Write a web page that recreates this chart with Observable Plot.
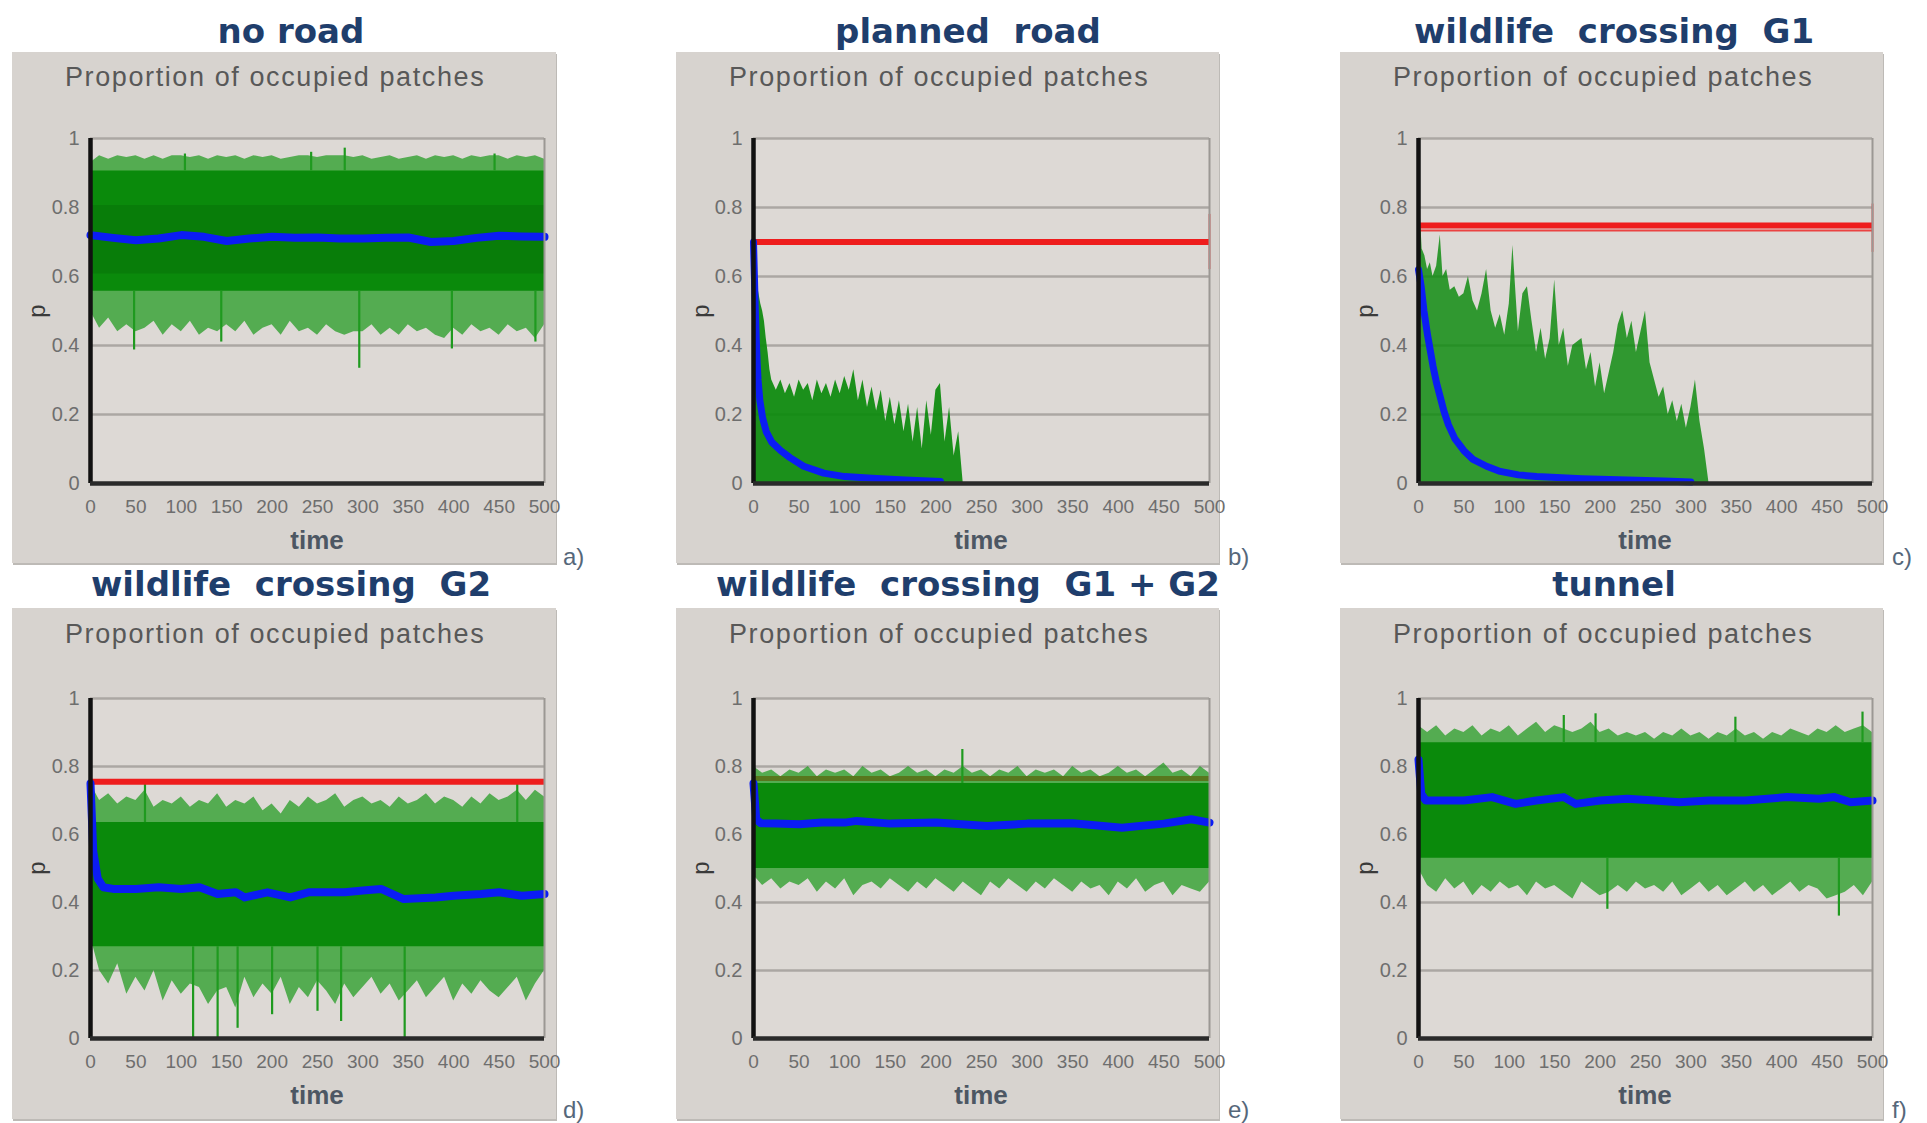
<!DOCTYPE html>
<html>
<head>
<meta charset="utf-8">
<script src="https://cdn.jsdelivr.net/npm/d3@7"></script>
<script src="https://cdn.jsdelivr.net/npm/@observablehq/plot@0.6"></script>
<style>
html,body{margin:0;padding:0;background:#fff;}
#root{position:relative;width:1927px;height:1123px;overflow:hidden;background:#fff;}
.box{position:absolute;background:#d7d3cf;overflow:visible;box-shadow:1px 2px 0 #bdbab6;}
.box svg{display:block;overflow:visible;}
.title{position:absolute;width:700px;text-align:center;font-family:"DejaVu Sans";font-weight:bold;font-size:34px;line-height:34px;color:#1f3e6c;white-space:pre;}
.sub{position:absolute;font-family:"Liberation Sans";font-size:27px;line-height:27px;letter-spacing:1.6px;color:#585858;white-space:pre;}
.xl{position:absolute;width:120px;text-align:center;font-family:"Liberation Sans";font-weight:bold;font-size:26px;line-height:26px;color:#4d5763;}
.yl{position:absolute;width:30px;height:30px;line-height:30px;text-align:center;font-family:"Liberation Sans";font-size:24px;color:#3a3a3a;transform:rotate(-90deg);}
.tag{position:absolute;font-family:"Liberation Sans";font-size:24px;line-height:24px;color:#56677a;}
</style>
</head>
<body>
<div id="root"></div>
<script>
// ---------- shared categories / ticks ----------
const tGrid = [0,10,20,30,40,50,60,70,80,90,100,110,120,130,140,150,160,170,180,190,200,210,220,230,240,250,260,270,280,290,300,310,320,330,340,350,360,370,380,390,400,410,420,430,440,450,460,470,480,490,500];
const xTicks = [0,50,100,150,200,250,300,350,400,450,500];
const yTicks = [0,0.2,0.4,0.6,0.8,1];
const gridLevels = [0.2,0.4,0.6,0.8,1];
const titles = ["no road","planned  road","wildlife  crossing  G1","wildlife  crossing  G2","wildlife  crossing  G1 + G2","tunnel"];
const tags = ["a)","b)","c)","d)","e)","f)"];
const subTitle = "Proportion of occupied patches";
const xLabel = "time";
const yLabel = "p";

// ---------- a) no road ----------
const aHi = [0.93,0.95,0.94,0.95,0.945,0.95,0.94,0.95,0.94,0.95, 0.95,0.945,0.95,0.94,0.95,0.945,0.95,0.94,0.95,0.945, 0.95,0.94,0.945,0.95,0.95,0.945,0.95,0.95,0.95,0.945, 0.95,0.94,0.945,0.95,0.94,0.945,0.95,0.94,0.95,0.945, 0.95,0.94,0.95,0.945,0.95,0.95,0.94,0.95,0.945,0.95, 0.94];
const aLo = [0.50,0.45,0.48,0.44,0.46,0.44,0.45,0.47,0.43,0.46, 0.44,0.47,0.43,0.45,0.44,0.46,0.44,0.47,0.43,0.45, 0.46,0.43,0.47,0.44,0.45,0.43,0.46,0.44,0.43,0.44, 0.44,0.46,0.43,0.45,0.43,0.46,0.44,0.45,0.43,0.42, 0.45,0.43,0.46,0.44,0.45,0.43,0.46,0.44,0.45,0.42, 0.46];
const aCore = [0.557, 0.906];
const aSpikeT = [48,104,144,243,280,296,398,445,490];
const aSpikeP = [0.387,0.955,0.41,0.96,0.972,0.334,0.39,0.955,0.41];
const aMeanT = [0,25,50,75,100,125,150,175,200,225,250,275,300,325,350,375,400,425,450,475,500];
const aMean = [0.72,0.712,0.705,0.71,0.72,0.715,0.703,0.71,0.715,0.712,0.713,0.71,0.71,0.712,0.713,0.70,0.703,0.712,0.718,0.716,0.715];

// ---------- b) planned road ----------
const bT = [0,2,4,6,8,10,12,14,16,18,20,25,30,35,40,45,50,55,60,65,70,75,80,85,90,95,100,105,110,115,120,125,130,135,140,145,150,155,160,165,170,175,180,185,190,195,200,205,210,215,220,225,230];
const bHi = [0.80,0.66,0.58,0.55,0.52,0.50,0.47,0.42,0.38,0.33,0.30, 0.27,0.30,0.26,0.29,0.25,0.30,0.27,0.29,0.24,0.30,0.26,0.29,0.25,0.30,0.26,0.31,0.27,0.33,0.24,0.30,0.22,0.28,0.21,0.27,0.18,0.25,0.17,0.24,0.15,0.23,0.12,0.22,0.10,0.24,0.14,0.27,0.29,0.12,0.22,0.08,0.15,0.0];
const bMeanT = [0,1,2,3,4,5,7,10,14,20,30,40,55,77,100,130,166,205];
const bMean = [0.70,0.60,0.50,0.42,0.35,0.30,0.24,0.19,0.15,0.12,0.095,0.075,0.05,0.03,0.02,0.015,0.01,0.006];
const bRed = 0.70;
const bRedEdge = [0.62, 0.78];

// ---------- c) wildlife crossing G1 ----------
const cT = [0,2,4,7,10,13,16,20,24,27,31,35,40,45,50,55,60,65,70,75,80,85,90,95,100,104,110,115,120,125,130,135,140,145,150,155,160,165,170,175,180,185,190,195,200,205,210,215,220,225,230,235,240,245,250,255,260,265,270,275,280,285,290,295,300,305,310,315,320];
const cHi = [0.80,0.78,0.68,0.66,0.62,0.64,0.60,0.63,0.72,0.60,0.62,0.56, 0.57,0.54,0.55,0.60,0.53,0.50,0.55,0.62,0.50,0.45,0.49,0.43,0.52, 0.69, 0.44,0.55,0.57,0.47,0.38,0.45,0.36,0.42,0.59,0.40,0.45,0.34,0.40,0.41,0.42,0.33,0.38,0.28,0.35,0.26,0.32,0.38,0.46,0.50,0.42,0.47,0.38,0.44,0.50,0.35,0.30,0.25,0.28,0.20,0.24,0.18,0.23,0.16,0.22,0.30,0.18,0.10,0.0];
const cMeanT = [0,3,6,10,13,16,20,24,28,33,40,50,60,75,90,110,130,180,230,270,300];
const cMean = [0.62,0.57,0.50,0.43,0.385,0.34,0.29,0.25,0.21,0.17,0.13,0.095,0.07,0.05,0.035,0.025,0.02,0.014,0.01,0.007,0.004];
const cRed = 0.748;
const cRed2 = 0.733;
const cRedEdge = [0.67, 0.81];

// ---------- d) wildlife crossing G2 ----------
const dHi = [0.75,0.70,0.72,0.69,0.71,0.70,0.73,0.68,0.70,0.69, 0.71,0.68,0.70,0.69,0.72,0.68,0.70,0.69,0.71,0.67, 0.69,0.66,0.70,0.68,0.71,0.69,0.70,0.72,0.68,0.70, 0.71,0.69,0.70,0.68,0.71,0.69,0.70,0.72,0.69,0.71, 0.70,0.68,0.71,0.69,0.72,0.70,0.71,0.73,0.70,0.73, 0.71];
const dLo = [0.30,0.20,0.16,0.22,0.13,0.18,0.14,0.20,0.11,0.17, 0.13,0.16,0.15,0.10,0.14,0.15,0.09,0.18,0.12,0.16, 0.13,0.18,0.10,0.15,0.12,0.17,0.14,0.10,0.16,0.12, 0.15,0.18,0.13,0.16,0.11,0.14,0.17,0.12,0.15,0.18, 0.11,0.16,0.13,0.17,0.14,0.12,0.15,0.18,0.11,0.16, 0.20];
const dCore = [0.27, 0.635];
const dSpikeT = [60,113,140,162,200,250,276,346,470];
const dSpikeP = [0.76,0.0,0.0,0.03,0.07,0.08,0.05,0.0,0.75];
const dMeanT = [0,3,8,14,25,50,75,100,120,140,160,170,195,220,240,280,300,320,345,380,400,430,450,475,500];
const dMean = [0.75,0.55,0.47,0.445,0.44,0.44,0.445,0.44,0.445,0.425,0.43,0.415,0.43,0.415,0.43,0.43,0.435,0.44,0.41,0.415,0.42,0.425,0.43,0.42,0.425];
const dRed = 0.755;

// ---------- e) wildlife crossing G1 + G2 ----------
const eHi = [0.80,0.78,0.79,0.77,0.79,0.78,0.80,0.77,0.79,0.78, 0.79,0.77,0.80,0.78,0.79,0.77,0.78,0.80,0.78,0.79, 0.77,0.79,0.78,0.80,0.78,0.79,0.77,0.79,0.78,0.80, 0.77,0.79,0.78,0.79,0.77,0.80,0.78,0.79,0.77,0.78, 0.80,0.78,0.79,0.77,0.79,0.81,0.78,0.79,0.77,0.80, 0.78];
const eLo = [0.48,0.45,0.47,0.44,0.46,0.45,0.47,0.43,0.46,0.44, 0.47,0.42,0.45,0.46,0.44,0.47,0.45,0.43,0.46,0.44, 0.47,0.45,0.43,0.46,0.44,0.42,0.46,0.44,0.47,0.45, 0.43,0.46,0.44,0.47,0.45,0.43,0.46,0.44,0.45,0.42, 0.46,0.44,0.47,0.43,0.45,0.46,0.42,0.45,0.44,0.43, 0.46];
const eCore = [0.50, 0.75];
const eSpikeT = [229];
const eSpikeP = [0.85];
const eMeanT = [0,3,8,25,50,75,100,113,150,200,256,300,350,404,450,480,500];
const eMean = [0.75,0.645,0.633,0.632,0.63,0.635,0.635,0.64,0.632,0.635,0.625,0.632,0.633,0.62,0.632,0.645,0.635];
const eRed = 0.765;

// ---------- f) tunnel ----------
const fHi = [0.92,0.90,0.92,0.89,0.91,0.90,0.92,0.89,0.91,0.90, 0.92,0.89,0.91,0.93,0.90,0.92,0.91,0.90,0.91,0.93, 0.90,0.91,0.89,0.90,0.89,0.90,0.88,0.90,0.89,0.91, 0.89,0.90,0.88,0.90,0.89,0.91,0.89,0.90,0.88,0.90, 0.89,0.91,0.90,0.89,0.91,0.90,0.92,0.90,0.91,0.92, 0.90];
const fLo = [0.50,0.45,0.43,0.47,0.44,0.46,0.42,0.45,0.43,0.46, 0.44,0.45,0.42,0.46,0.44,0.45,0.43,0.41,0.46,0.44, 0.42,0.43,0.45,0.43,0.46,0.44,0.45,0.43,0.46,0.42, 0.44,0.46,0.43,0.45,0.42,0.44,0.46,0.43,0.45,0.42, 0.44,0.46,0.43,0.45,0.44,0.41,0.42,0.43,0.45,0.42, 0.46];
const fCore = [0.53, 0.87];
const fSpikeT = [160,195,208,349,463,489];
const fSpikeP = [0.95,0.955,0.38,0.945,0.36,0.96];
const fMeanT = [0,3,8,25,50,81,107,130,160,173,200,230,260,287,320,360,406,441,458,476,500];
const fMean = [0.82,0.72,0.70,0.70,0.70,0.71,0.69,0.70,0.71,0.69,0.70,0.705,0.70,0.695,0.70,0.70,0.71,0.705,0.71,0.695,0.70];

// ---------- layout (positions / styles) ----------
const colLayout = [
  {x:12, w:544, l:78, r:12, titleCx:291, tagX:563},
  {x:676, w:543, l:77, r:10, titleCx:968, tagX:1228},
  {x:1340, w:543, l:78, r:11, titleCx:1614, tagX:1892}
];
const rowLayout = [
  {y:52, h:511, t:86, b:80, titleBase:43, subBase:35, tagBase:565},
  {y:608, h:511, t:90, b:81, titleBase:596, subBase:36, tagBase:1118}
];

const panels = [
  {kind:"band", hi:aHi, lo:aLo, core:aCore, spikeT:aSpikeT, spikeP:aSpikeP, meanT:aMeanT, mean:aMean, shade:true},
  {kind:"decay", t:bT, hi:bHi, meanT:bMeanT, mean:bMean, red:bRed, redEdge:bRedEdge, fillOp:0.92},
  {kind:"decay", t:cT, hi:cHi, meanT:cMeanT, mean:cMean, red:cRed, red2:cRed2, redEdge:cRedEdge, fillOp:0.82},
  {kind:"band", hi:dHi, lo:dLo, core:dCore, spikeT:dSpikeT, spikeP:dSpikeP, meanT:dMeanT, mean:dMean, red:dRed},
  {kind:"band", hi:eHi, lo:eLo, core:eCore, spikeT:eSpikeT, spikeP:eSpikeP, meanT:eMeanT, mean:eMean, redUnder:eRed},
  {kind:"band", hi:fHi, lo:fLo, core:fCore, spikeT:fSpikeT, spikeP:fSpikeP, meanT:fMeanT, mean:fMean}
];

const GREEN = "#0a8a0b", FRINGE = "#1f9a1f", BLUE = "#0b1cf4", RED = "#ee1d1d";

function marksFor(p) {
  const marks = [
    Plot.frame({fill:"#ddd9d5", stroke:"none"}),
    Plot.ruleY(gridLevels, {stroke:"#aba7a3", strokeWidth:2.5})
  ];
  if (p.redUnder != null) marks.push(Plot.ruleY([p.redUnder], {stroke:RED, strokeWidth:5}));
  if (p.kind === "band") {
    const rows = tGrid.map((t, i) => ({t, lo:p.lo[i], hi:p.hi[i]}));
    marks.push(Plot.areaY(rows, {x:"t", y1:"lo", y2:"hi", fill:FRINGE, fillOpacity:0.72}));
    const coreRows = tGrid.map(t => ({t, lo:p.core[0], hi:p.core[1]}));
    marks.push(Plot.areaY(coreRows, {x:"t", y1:"lo", y2:"hi", fill:GREEN}));
    if (p.shade) {
      marks.push(Plot.areaY(tGrid.map(t => ({t, lo:p.core[0] + 0.05, hi:p.core[1] - 0.1})), {x:"t", y1:"lo", y2:"hi", fill:"#055f08", fillOpacity:0.3}));
    }
    const mid = (p.core[0] + p.core[1]) / 2;
    const spikes = p.spikeT.map((t, i) => ({t, from: p.spikeP[i] > mid ? p.core[1] : p.core[0], to: p.spikeP[i]}));
    marks.push(Plot.ruleX(spikes, {x:"t", y1:"from", y2:"to", stroke:FRINGE, strokeWidth:2.2}));
  } else {
    const rows = p.t.map((t, i) => ({t, lo:0, hi:p.hi[i]}));
    marks.push(Plot.areaY(rows, {x:"t", y1:"lo", y2:"hi", fill:GREEN, fillOpacity:p.fillOp}));
  }
  if (p.red != null) marks.push(Plot.ruleY([p.red], {stroke:RED, strokeWidth:6}));
  if (p.red2 != null) marks.push(Plot.ruleY([p.red2], {stroke:RED, strokeWidth:2, strokeOpacity:0.8}));
  if (p.redEdge) marks.push(Plot.ruleX([500], {y1:p.redEdge[0], y2:p.redEdge[1], stroke:RED, strokeWidth:2, strokeOpacity:0.7}));
  const meanRows = p.meanT.map((t, i) => ({t, v:p.mean[i]}));
  marks.push(Plot.line(meanRows, {x:"t", y:"v", stroke:BLUE, strokeWidth: p.kind === "band" ? 8 : 7, strokeLinejoin:"round"}));
  marks.push(Plot.ruleX([500], {stroke:"#9b9894", strokeWidth:2}));
  marks.push(Plot.ruleX([0], {stroke:"#111", strokeWidth:4.5}));
  marks.push(Plot.ruleY([0], {stroke:"#2a2a2a", strokeWidth:4.5}));
  marks.push(Plot.axisY({ticks:yTicks, tickSize:0, tickPadding:11, fontSize:20, tickFormat:d => String(d), label:null}));
  marks.push(Plot.axisX({ticks:xTicks, tickSize:0, tickPadding:16, fontSize:19, tickFormat:d => String(d), label:null}));
  return marks;
}

const root = document.getElementById("root");
panels.forEach((p, k) => {
  const col = colLayout[k % 3], row = rowLayout[Math.floor(k / 3)];
  const box = document.createElement("div");
  box.className = "box";
  Object.assign(box.style, {left: col.x + "px", top: row.y + "px", width: col.w + "px", height: row.h + "px"});
  const svg = Plot.plot({
    width: col.w, height: row.h,
    marginTop: row.t, marginBottom: row.b, marginLeft: col.l, marginRight: col.r,
    x: {domain: [0, 500]}, y: {domain: [0, 1]},
    style: {background: "transparent", color: "#6e6e6e", fontFamily: "Liberation Sans", overflow: "visible"},
    marks: marksFor(p)
  });
  box.appendChild(svg);

  const sub = document.createElement("div");
  sub.className = "sub"; sub.textContent = subTitle;
  sub.style.left = "53px"; sub.style.top = (row.subBase - 23) + "px";
  box.appendChild(sub);

  const fh = row.h - row.t - row.b, fw = col.w - col.l - col.r;
  const xl = document.createElement("div");
  xl.className = "xl"; xl.textContent = xLabel;
  xl.style.left = (col.l + fw / 2 - 60) + "px";
  xl.style.top = (row.t + fh + 66 - 22) + "px";
  box.appendChild(xl);

  const yl = document.createElement("div");
  yl.className = "yl"; yl.textContent = yLabel;
  yl.style.left = (25 - 15) + "px";
  yl.style.top = (row.t + fh / 2 - 15) + "px";
  box.appendChild(yl);

  root.appendChild(box);

  const title = document.createElement("div");
  title.className = "title"; title.textContent = titles[k];
  title.style.left = (col.titleCx - 350) + "px";
  title.style.top = (row.titleBase - 29) + "px";
  root.appendChild(title);

  const tag = document.createElement("div");
  tag.className = "tag"; tag.textContent = tags[k];
  tag.style.left = col.tagX + "px";
  tag.style.top = (row.tagBase - 20) + "px";
  root.appendChild(tag);
});
</script>
</body>
</html>
